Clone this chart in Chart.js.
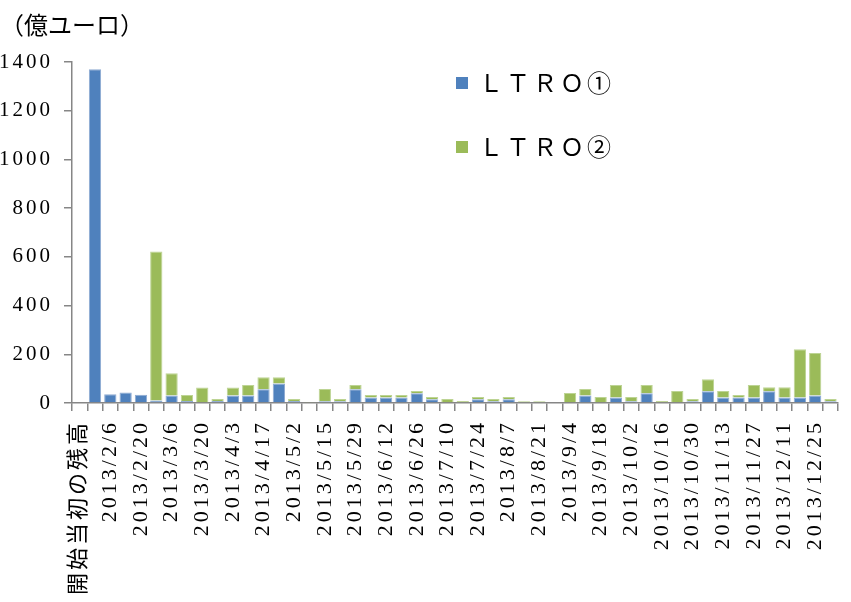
<!DOCTYPE html>
<html>
<head>
<meta charset="utf-8">
<script src="https://cdn.jsdelivr.net/npm/chart.js@4/dist/chart.umd.min.js"></script>
<style>
  html, body { margin: 0; padding: 0; background: #fff; overflow: hidden; }
  #wrap { width: 866px; height: 602px; }
</style>
</head>
<body>
<div id="wrap"><canvas id="ltroChart" width="866" height="602"></canvas></div>
<script>
/* ---------- Data ---------- */
const categories = [
  '開始当初の残高',
  '2013/1/30', '2013/2/6', '2013/2/13', '2013/2/20', '2013/2/27',
  '2013/3/6', '2013/3/13', '2013/3/20', '2013/3/27',
  '2013/4/3', '2013/4/10', '2013/4/17', '2013/4/24',
  '2013/5/2', '2013/5/8', '2013/5/15', '2013/5/22', '2013/5/29',
  '2013/6/5', '2013/6/12', '2013/6/19', '2013/6/26',
  '2013/7/3', '2013/7/10', '2013/7/17', '2013/7/24', '2013/7/31',
  '2013/8/7', '2013/8/14', '2013/8/21', '2013/8/28',
  '2013/9/4', '2013/9/11', '2013/9/18', '2013/9/25',
  '2013/10/2', '2013/10/9', '2013/10/16', '2013/10/23', '2013/10/30',
  '2013/11/6', '2013/11/13', '2013/11/20', '2013/11/27',
  '2013/12/4', '2013/12/11', '2013/12/18', '2013/12/25',
  '2014/1/2'
];

const ltro1 = [
  0, 1370, 36, 43, 34, 10, 31, 8, 0, 8,
  31, 31, 56, 80, 8, 0, 7, 7, 56, 23,
  23, 23, 40, 15, 0, 0, 15, 7, 15, 0,
  0, 0, 0, 31, 0, 23, 7, 40, 0, 0,
  7, 48, 23, 23, 23, 48, 23, 23, 31, 7
];

const ltro2 = [
  0, 0, 0, 0, 0, 612, 91, 25, 64, 8,
  33, 43, 50, 26, 8, 2, 50, 9, 18, 10,
  10, 10, 9, 10, 16, 8, 10, 9, 10, 7,
  7, 0, 41, 26, 25, 51, 18, 34, 8, 49,
  9, 50, 26, 10, 51, 17, 42, 198, 174, 9
];

const yTicks = [0, 200, 400, 600, 800, 1000, 1200, 1400];

/* ---------- Styles ---------- */
const AXIS = '#868686';
const SERIF = '"Liberation Serif", "Noto Sans CJK JP", serif';
const CJK = '"Noto Sans CJK JP", sans-serif';

/* ---------- Plugins ---------- */
// wider glyph spacing, like the Mincho digits of the original
const spacingPlugin = {
  id: 'spacing',
  beforeUpdate(chart) { chart.ctx.letterSpacing = '3px'; },
  beforeDraw(chart) { chart.ctx.letterSpacing = '3px'; }
};

const decorPlugin = {
  id: 'decor',
  afterDraw(chart) {
    const ctx = chart.ctx;
    ctx.save();
    ctx.letterSpacing = '0px';
    ctx.fillStyle = '#000';
    ctx.textBaseline = 'middle';
    ctx.textAlign = 'left';

    // unit label
    ctx.font = '24px ' + CJK;
    ctx.fillText('（億ユーロ）', 0, 25);

    // legend
    const rows = [83, 147];
    chart.data.datasets.forEach((ds, i) => {
      ctx.fillStyle = ds.backgroundColor;
      ctx.fillRect(456, rows[i] - 6, 12, 12);
      ctx.fillStyle = '#000';
      ctx.font = '24px ' + CJK;
      ctx.letterSpacing = '3px';
      ctx.fillText(ds.label, 479, rows[i]);
      ctx.letterSpacing = '0px';
    });
    ctx.restore();
  }
};

/* ---------- Chart ---------- */
new Chart(document.getElementById('ltroChart'), {
  type: 'bar',
  data: {
    labels: categories,
    datasets: [
      {
        label: 'ＬＴＲＯ①',
        data: ltro1,
        backgroundColor: '#4F81BD',
        borderColor: '#8EAAD2',
        borderWidth: 1,
        barPercentage: 0.8,
        categoryPercentage: 1
      },
      {
        label: 'ＬＴＲＯ②',
        data: ltro2,
        backgroundColor: '#9BBB59',
        borderColor: '#BDD494',
        borderWidth: 1,
        barPercentage: 0.8,
        categoryPercentage: 1
      }
    ]
  },
  options: {
    responsive: false,
    animation: false,
    devicePixelRatio: 1,
    layout: { padding: { top: 62, right: 9, left: 0, bottom: 0 } },
    plugins: {
      legend: { display: false },
      tooltip: { enabled: false }
    },
    scales: {
      x: {
        stacked: true,
        offset: true,
        grid: {
          offset: true,
          drawOnChartArea: false,
          color: AXIS,
          lineWidth: 1.5,
          tickLength: 8
        },
        border: { color: AXIS, width: 1.5 },
        ticks: {
          autoSkip: false,
          maxRotation: 90,
          minRotation: 90,
          padding: 9,
          color: '#000',
          font: { family: SERIF, size: 22 },
          callback(v, i) { return i % 2 === 0 ? categories[i] : ''; }
        },
        afterFit(scale) { scale.height = 199; }
      },
      y: {
        stacked: true,
        min: 0,
        max: 1400,
        afterBuildTicks(scale) { scale.ticks = yTicks.map(v => ({ value: v })); },
        grid: {
          drawOnChartArea: false,
          color: AXIS,
          lineWidth: 1.5,
          tickLength: 8
        },
        border: { color: AXIS, width: 1.5 },
        ticks: {
          padding: 11,
          color: '#000',
          font: { family: SERIF, size: 21 },
          callback: v => String(v)
        },
        afterFit(scale) { scale.width = 72; }
      }
    }
  },
  plugins: [spacingPlugin, decorPlugin]
});
</script>
</body>
</html>
